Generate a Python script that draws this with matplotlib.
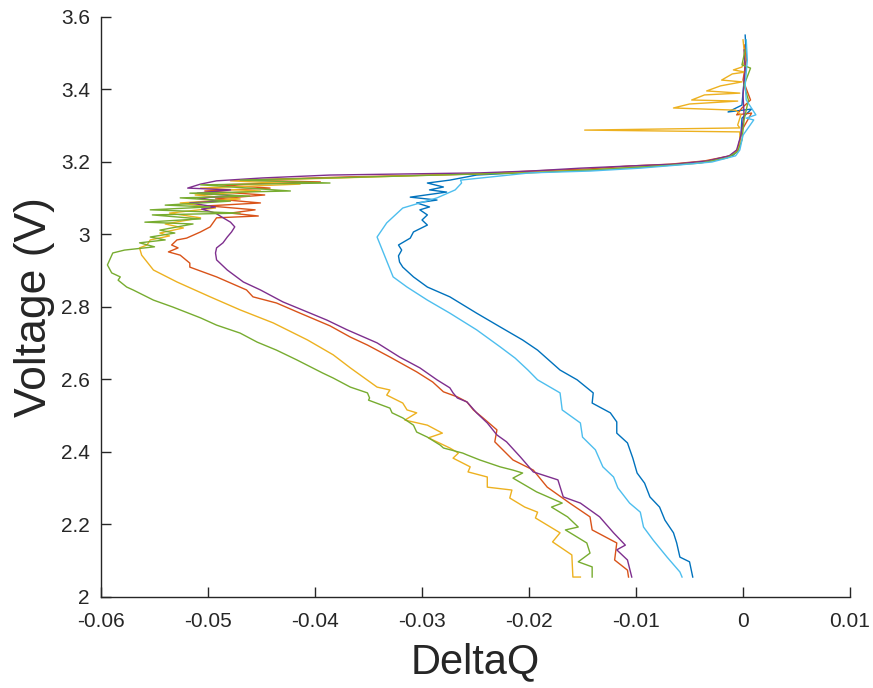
import matplotlib
matplotlib.use("Agg")
import numpy as np
import matplotlib.pyplot as plt

plt.rcParams['font.family'] = ['Liberation Sans', 'DejaVu Sans']
plt.rcParams['axes.unicode_minus'] = False

# MATLAB default colour order
c_blue = (0.000, 0.447, 0.741)
c_red = (0.850, 0.325, 0.098)
c_yellow = (0.929, 0.694, 0.125)
c_purple = (0.494, 0.184, 0.556)
c_green = (0.466, 0.674, 0.188)
c_lblue = (0.301, 0.745, 0.933)

# ---------------- curve 1 (blue) ----------------
dq1 = [0.0002, 0.0003, 0.0001, -0.0001, -0.0014, 0.0008, -0.0001, -0.0002, -0.0005, -0.0009,
       -0.0031, -0.0059, -0.0096, -0.0143, -0.0199,
       -0.0249, -0.0274, -0.0295, -0.0280, -0.0293, -0.0277, -0.0311, -0.0286, -0.0305, -0.0293,
       -0.0302, -0.0295, -0.0300, -0.0295, -0.0308, -0.0311, -0.0322, -0.0319, -0.0322, -0.0321,
       -0.0318, -0.0308, -0.0295, -0.0274, -0.0249, -0.0227, -0.0206, -0.0192, -0.0171, -0.0155,
       -0.0140, -0.0141, -0.0124, -0.0118, -0.0118, -0.0108, -0.0103, -0.0099, -0.0092, -0.0087,
       -0.0078, -0.0073, -0.0065, -0.0062, -0.0059, -0.0050, -0.0047]
v1 = [3.550, 3.495, 3.426, 3.357, 3.338, 3.346, 3.321, 3.274, 3.233, 3.219,
      3.203, 3.194, 3.186, 3.178, 3.172,
      3.164, 3.150, 3.142, 3.131, 3.123, 3.117, 3.103, 3.095, 3.087, 3.076,
      3.068, 3.054, 3.040, 3.026, 3.007, 2.990, 2.971, 2.957, 2.941, 2.924,
      2.910, 2.883, 2.855, 2.828, 2.783, 2.745, 2.709, 2.681, 2.626, 2.599,
      2.563, 2.535, 2.508, 2.483, 2.452, 2.425, 2.383, 2.342, 2.314, 2.276,
      2.248, 2.212, 2.177, 2.149, 2.110, 2.097, 2.055]

# ---------------- curve 2 (red) ----------------
dq2 = [0.0001, 0.0003, 0.0000, 0.0007, -0.0001, -0.0006, 0.0008, -0.0001, -0.0005, -0.0012,
       -0.0036, -0.0068, -0.0106, -0.0143, -0.0199,
       -0.0246, -0.0367, -0.0470, -0.0395, -0.0489, -0.0442, -0.0503, -0.0447, -0.0493, -0.0451,
       -0.0500, -0.0456, -0.0479, -0.0453, -0.0492, -0.0498, -0.0507, -0.0520, -0.0529, -0.0534,
       -0.0528, -0.0537, -0.0526, -0.0517, -0.0517, -0.0492, -0.0464, -0.0458, -0.0436, -0.0414,
       -0.0386, -0.0367, -0.0351, -0.0330, -0.0305, -0.0290, -0.0280, -0.0267, -0.0258, -0.0252,
       -0.0243, -0.0230, -0.0232, -0.0215, -0.0196, -0.0183, -0.0162, -0.0143, -0.0141, -0.0118,
       -0.0120, -0.0108, -0.0107]
v2 = [3.523, 3.481, 3.426, 3.371, 3.349, 3.330, 3.335, 3.288, 3.233, 3.217,
      3.203, 3.194, 3.189, 3.181, 3.175,
      3.167, 3.159, 3.150, 3.145, 3.137, 3.128, 3.120, 3.109, 3.098, 3.087,
      3.079, 3.068, 3.059, 3.051, 3.046, 3.021, 3.007, 2.990, 2.985, 2.971,
      2.963, 2.952, 2.943, 2.921, 2.910, 2.883, 2.847, 2.828, 2.811, 2.783,
      2.748, 2.717, 2.695, 2.662, 2.621, 2.593, 2.566, 2.552, 2.538, 2.516,
      2.494, 2.461, 2.428, 2.378, 2.350, 2.303, 2.259, 2.221, 2.185, 2.149,
      2.102, 2.074, 2.055]

# ---------------- curve 3 (yellow) ----------------
dq3 = [0.0000, 0.0002, -0.0001, -0.0009, 0.0002, -0.0010, -0.0020, -0.0001, -0.0021, -0.0034,
       -0.0003, -0.0036, -0.0048, -0.0005, -0.0050, -0.0065, -0.0007, -0.0002, -0.0005, -0.0003,
       -0.0148, -0.0003, -0.0003, -0.0007, -0.0014, -0.0031, -0.0059, -0.0096, -0.0143, -0.0199,
       -0.0255, -0.0377, -0.0479, -0.0414, -0.0507, -0.0451, -0.0512, -0.0470, -0.0526, -0.0493,
       -0.0536, -0.0507, -0.0540, -0.0523, -0.0545, -0.0536, -0.0554, -0.0557, -0.0564, -0.0562,
       -0.0551, -0.0529, -0.0498, -0.0470, -0.0439, -0.0407, -0.0383, -0.0367, -0.0342, -0.0330,
       -0.0333, -0.0318, -0.0314, -0.0305, -0.0316, -0.0295, -0.0281, -0.0294, -0.0274, -0.0266,
       -0.0271, -0.0255, -0.0257, -0.0239, -0.0239, -0.0216, -0.0218, -0.0204, -0.0192, -0.0194,
       -0.0171, -0.0178, -0.0160, -0.0159, -0.0152]
v3 = [3.537, 3.481, 3.462, 3.454, 3.448, 3.443, 3.426, 3.421, 3.410, 3.396,
      3.390, 3.385, 3.371, 3.368, 3.360, 3.349, 3.343, 3.330, 3.302, 3.294,
      3.288, 3.283, 3.247, 3.228, 3.214, 3.203, 3.194, 3.186, 3.178, 3.172,
      3.167, 3.156, 3.148, 3.139, 3.128, 3.120, 3.109, 3.098, 3.087, 3.073,
      3.059, 3.046, 3.029, 3.018, 3.004, 2.996, 2.985, 2.971, 2.963, 2.943,
      2.902, 2.869, 2.828, 2.792, 2.756, 2.709, 2.668, 2.632, 2.579, 2.571,
      2.557, 2.535, 2.516, 2.508, 2.488, 2.474, 2.452, 2.439, 2.411, 2.397,
      2.383, 2.359, 2.345, 2.331, 2.303, 2.295, 2.273, 2.248, 2.234, 2.218,
      2.177, 2.152, 2.116, 2.055, 2.055]

# ---------------- curve 4 (purple) ----------------
dq4 = [0.0001, 0.0002, 0.0000, 0.0001, -0.0002, -0.0006, -0.0013, -0.0033, -0.0064, -0.0106,
       -0.0152, -0.0199,
       -0.0246, -0.0386, -0.0449, -0.0492, -0.0507, -0.0519, -0.0479, -0.0510, -0.0470, -0.0510,
       -0.0489, -0.0517, -0.0493, -0.0506, -0.0493, -0.0487, -0.0479, -0.0475, -0.0478, -0.0482,
       -0.0486, -0.0492, -0.0493, -0.0492, -0.0482, -0.0467, -0.0451, -0.0430, -0.0407, -0.0389,
       -0.0370, -0.0342, -0.0321, -0.0302, -0.0286, -0.0274, -0.0271, -0.0267, -0.0258, -0.0249,
       -0.0239, -0.0230, -0.0221, -0.0208, -0.0196, -0.0173, -0.0168, -0.0152, -0.0134, -0.0121,
       -0.0110, -0.0118, -0.0108, -0.0104]
v4 = [3.509, 3.454, 3.385, 3.330, 3.274, 3.233, 3.217, 3.203, 3.194, 3.189,
      3.183, 3.175,
      3.170, 3.164, 3.156, 3.148, 3.139, 3.128, 3.123, 3.114, 3.106, 3.101,
      3.092, 3.087, 3.076, 3.070, 3.059, 3.048, 3.034, 3.021, 3.007, 2.993,
      2.977, 2.963, 2.949, 2.930, 2.902, 2.869, 2.847, 2.814, 2.786, 2.764,
      2.737, 2.701, 2.662, 2.632, 2.599, 2.577, 2.563, 2.549, 2.538, 2.508,
      2.480, 2.447, 2.428, 2.386, 2.345, 2.323, 2.276, 2.259, 2.221, 2.177,
      2.143, 2.130, 2.102, 2.055]

# ---------------- curve 5 (green) ----------------
dq5 = [0.0002, -0.0001, 0.0007, 0.0001, 0.0005, 0.0001, -0.0001, -0.0005, -0.0015, -0.0040,
       -0.0078, -0.0124, -0.0199,
       -0.0246, -0.0386, -0.0470, -0.0386, -0.0507, -0.0423, -0.0517, -0.0461, -0.0526, -0.0479,
       -0.0540, -0.0498, -0.0554, -0.0470, -0.0552, -0.0507, -0.0559, -0.0514, -0.0545, -0.0531,
       -0.0554, -0.0540, -0.0564, -0.0550, -0.0578, -0.0589, -0.0594, -0.0590, -0.0582, -0.0584,
       -0.0576, -0.0570, -0.0551, -0.0533, -0.0507, -0.0492, -0.0470, -0.0454, -0.0436, -0.0417,
       -0.0393, -0.0383, -0.0367, -0.0351, -0.0349, -0.0350, -0.0330, -0.0328, -0.0318, -0.0308,
       -0.0305, -0.0295, -0.0283, -0.0280, -0.0262, -0.0258, -0.0246, -0.0227, -0.0215, -0.0206,
       -0.0215, -0.0193, -0.0169, -0.0179, -0.0164, -0.0154, -0.0166, -0.0146, -0.0143, -0.0154,
       -0.0141, -0.0141]
v5 = [3.509, 3.468, 3.459, 3.412, 3.371, 3.316, 3.261, 3.228, 3.211, 3.197,
      3.189, 3.181, 3.170,
      3.167, 3.156, 3.150, 3.142, 3.137, 3.120, 3.114, 3.106, 3.101, 3.092,
      3.081, 3.076, 3.068, 3.059, 3.054, 3.043, 3.034, 3.029, 3.012, 3.004,
      2.993, 2.985, 2.977, 2.966, 2.957, 2.949, 2.916, 2.894, 2.883, 2.874,
      2.855, 2.847, 2.819, 2.800, 2.770, 2.750, 2.728, 2.703, 2.681, 2.654,
      2.618, 2.604, 2.579, 2.563, 2.549, 2.543, 2.521, 2.508, 2.494, 2.474,
      2.455, 2.441, 2.419, 2.411, 2.397, 2.392, 2.378, 2.359, 2.350, 2.342,
      2.328, 2.290, 2.259, 2.248, 2.221, 2.193, 2.185, 2.149, 2.121, 2.097,
      2.083, 2.055]

# ---------------- curve 6 (light blue) ----------------
dq6 = [0.0003, 0.0004, 0.0002, 0.0003, 0.0012, 0.0003, 0.0010, 0.0000, -0.0003, -0.0007,
       -0.0029, -0.0059, -0.0096, -0.0143, -0.0199,
       -0.0264, -0.0263, -0.0269, -0.0286, -0.0318, -0.0333, -0.0342, -0.0336, -0.0327, -0.0314,
       -0.0295, -0.0274, -0.0249, -0.0227, -0.0213, -0.0201, -0.0192, -0.0171, -0.0169, -0.0152,
       -0.0150, -0.0138, -0.0131, -0.0121, -0.0117, -0.0106, -0.0096, -0.0093, -0.0084, -0.0071,
       -0.0059, -0.0057]
v6 = [3.537, 3.481, 3.412, 3.371, 3.330, 3.321, 3.316, 3.274, 3.233, 3.217,
      3.200, 3.192, 3.183, 3.175, 3.170,
      3.150, 3.142, 3.123, 3.101, 3.073, 3.032, 2.993, 2.949, 2.883, 2.855,
      2.819, 2.783, 2.737, 2.690, 2.659, 2.626, 2.599, 2.563, 2.516, 2.480,
      2.441, 2.406, 2.359, 2.331, 2.301, 2.259, 2.234, 2.193, 2.157, 2.110,
      2.069, 2.055]

series = [(dq1, v1, c_blue), (dq2, v2, c_red), (dq3, v3, c_yellow),
          (dq4, v4, c_purple), (dq5, v5, c_green), (dq6, v6, c_lblue)]

xticks = [-0.06, -0.05, -0.04, -0.03, -0.02, -0.01, 0, 0.01]
xticklabels = ['-0.06', '-0.05', '-0.04', '-0.03', '-0.02', '-0.01', '0', '0.01']
yticks = [2, 2.2, 2.4, 2.6, 2.8, 3, 3.2, 3.4, 3.6]
yticklabels = ['2', '2.2', '2.4', '2.6', '2.8', '3', '3.2', '3.4', '3.6']

fig = plt.figure(figsize=(8.73, 6.88), dpi=100)
ax = fig.add_axes([0.1157, 0.1323, 0.858, 0.8430])

for dq, v, col in series:
    ax.plot(np.array(dq), np.array(v), '-', color=col, lw=1.0)

ax.set_xlim(-0.06, 0.01)
ax.set_ylim(2, 3.6)
ax.set_xticks(xticks)
ax.set_xticklabels(xticklabels)
ax.set_yticks(yticks)
ax.set_yticklabels(yticklabels)

axcol = (0.15, 0.15, 0.15)
for s in ['top', 'right']:
    ax.spines[s].set_visible(False)
for s in ['left', 'bottom']:
    ax.spines[s].set_color(axcol)
    ax.spines[s].set_linewidth(1.0)
ax.tick_params(axis='both', direction='in', length=7, width=1.0, color=axcol,
               labelsize=15, labelcolor=axcol)
ax.tick_params(axis='x', pad=11)
ax.tick_params(axis='y', pad=8)

ax.set_xlabel('DeltaQ', fontsize=30, color=axcol, labelpad=8)
ax.set_ylabel('Voltage (V)', fontsize=32, color=axcol, labelpad=4)

fig.savefig('out.png', dpi=100)
